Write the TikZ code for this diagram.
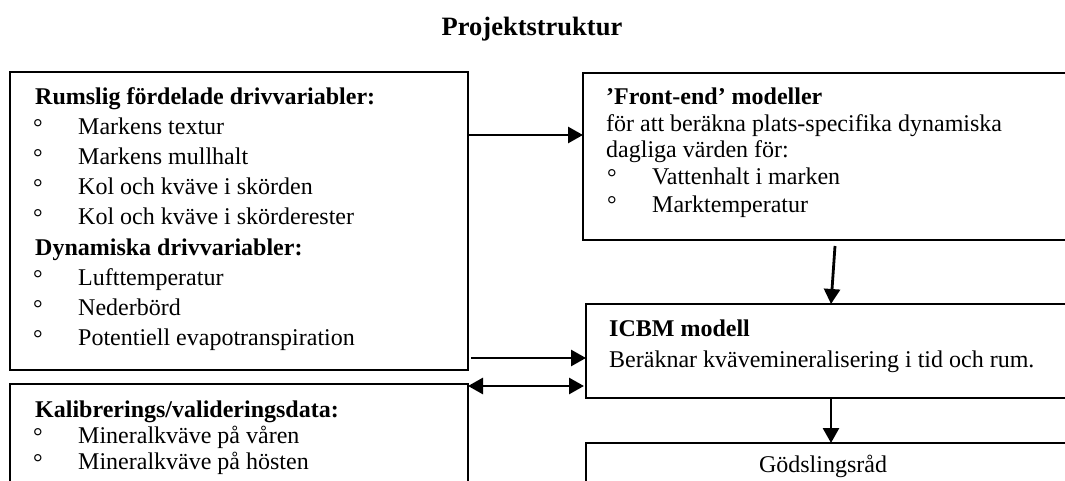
\documentclass[tikz,border=0pt]{standalone}
\usepackage{fontspec}
\setmainfont{Liberation Serif}
\usetikzlibrary{arrows.meta,calc}
\begin{document}
\begin{tikzpicture}[x=1pt,y=-1pt,
  box/.style={draw, line width=1.8pt, inner sep=0pt, outer sep=0pt, anchor=north west},
  arr/.style={line width=2.8pt, -{Triangle[length=15pt,width=16pt]}},
  darr/.style={line width=2.8pt, {Triangle[length=15pt,width=16pt]}-{Triangle[length=15pt,width=16pt]}},
  txt/.style={anchor=base west, inner sep=0pt, font=\fontsize{24}{27}\selectfont},
  hd/.style={anchor=base west, inner sep=0pt, font=\fontsize{24}{27}\selectfont\bfseries},
  bul/.style={anchor=base west, inner sep=0pt, font=\fontsize{24}{27}\selectfont},
  ttl/.style={anchor=base, inner sep=0pt, font=\fontsize{26.5}{30}\selectfont\bfseries},
]
\useasboundingbox (0,0) rectangle (1065,481);
% title
\node[ttl] (title) at (532,36) {Projektstruktur};
% boxes
\node[box, minimum width=458pt, minimum height=298pt] (lb) at (10,72) {};
\node[box, minimum width=458pt, minimum height=140pt] (lb2) at (10,384) {};
\node[box, minimum width=495pt, minimum height=167pt] (fe) at (583,73) {};
\node[box, minimum width=492pt, minimum height=94pt] (icbm) at (586,304) {};
\node[box, minimum width=492pt, minimum height=80pt] (gods) at (586,443) {};
% left box text
\node[hd] (l1) at (35,105) {Rumslig fördelade drivvariabler:};
\node[bul] (b2) at (33,135) {\raisebox{-1pt}{°}};
\node[txt] (l2) at (78,135) {Markens textur};
\node[bul] (b3) at (33,165) {\raisebox{-1pt}{°}};
\node[txt] (l3) at (78,165) {Markens mullhalt};
\node[bul] (b4) at (33,195) {\raisebox{-1pt}{°}};
\node[txt] (l4) at (78,195) {Kol och kväve i skörden};
\node[bul] (b5) at (33,225) {\raisebox{-1pt}{°}};
\node[txt] (l5) at (78,225) {Kol och kväve i skörderester};
\node[hd] (l6) at (35,255) {Dynamiska drivvariabler:};
\node[bul] (b7) at (33,285) {\raisebox{-1pt}{°}};
\node[txt] (l7) at (78,285) {Lufttemperatur};
\node[bul] (b8) at (33,315) {\raisebox{-1pt}{°}};
\node[txt] (l8) at (78,315) {Nederbörd};
\node[bul] (b9) at (33,345) {\raisebox{-1pt}{°}};
\node[txt] (l9) at (78,345) {Potentiell evapotranspiration};
% lower-left box text
\node[hd] (k1) at (35,417) {Kalibrerings/valideringsdata:};
\node[bul] (kb2) at (33,443) {\raisebox{-1pt}{°}};
\node[txt] (k2) at (78,443) {Mineralkväve på våren};
\node[bul] (kb3) at (33,469) {\raisebox{-1pt}{°}};
\node[txt] (k3) at (78,469) {Mineralkväve på hösten};
% front-end text
\node[hd] (f1) at (606,105) {’Front-end’ modeller};
\node[txt] (f2) at (606,132) {för att beräkna plats-specifika dynamiska};
\node[txt] (f3) at (606,158) {dagliga värden för:};
\node[bul] (fb4) at (607,185) {\raisebox{-1pt}{°}};
\node[txt] (f4) at (652,185) {Vattenhalt i marken};
\node[bul] (fb5) at (607,212) {\raisebox{-1pt}{°}};
\node[txt] (f5) at (652,212) {Marktemperatur};
% ICBM text
\node[hd] (i1) at (609,336) {ICBM modell};
\node[txt] (i2) at (609,367) {Beräknar kvävemineralisering i tid och rum.};
% Gödslingsråd
\node[anchor=base, inner sep=0pt, font=\fontsize{24}{27}\selectfont] (g1) at (823,472) {Gödslingsråd};
% connectors
\draw[arr] ([yshift=-63pt]lb.north east) -- ([yshift=-62pt]fe.north west);
\draw[arr] ([xshift=3pt,yshift=12pt]lb.south east) -- ([yshift=-54pt]icbm.north west);
\draw[darr] ([yshift=-2pt]lb2.north east) -- ([xshift=-2pt,yshift=-82pt]icbm.north west);
\draw[arr] ([xshift=252pt,yshift=-6pt]fe.south west) -- ([xshift=245pt]icbm.north west);
\draw[arr] ([xshift=245pt]icbm.south west) -- ([xshift=245pt]gods.north west);
\end{tikzpicture}
\end{document}
